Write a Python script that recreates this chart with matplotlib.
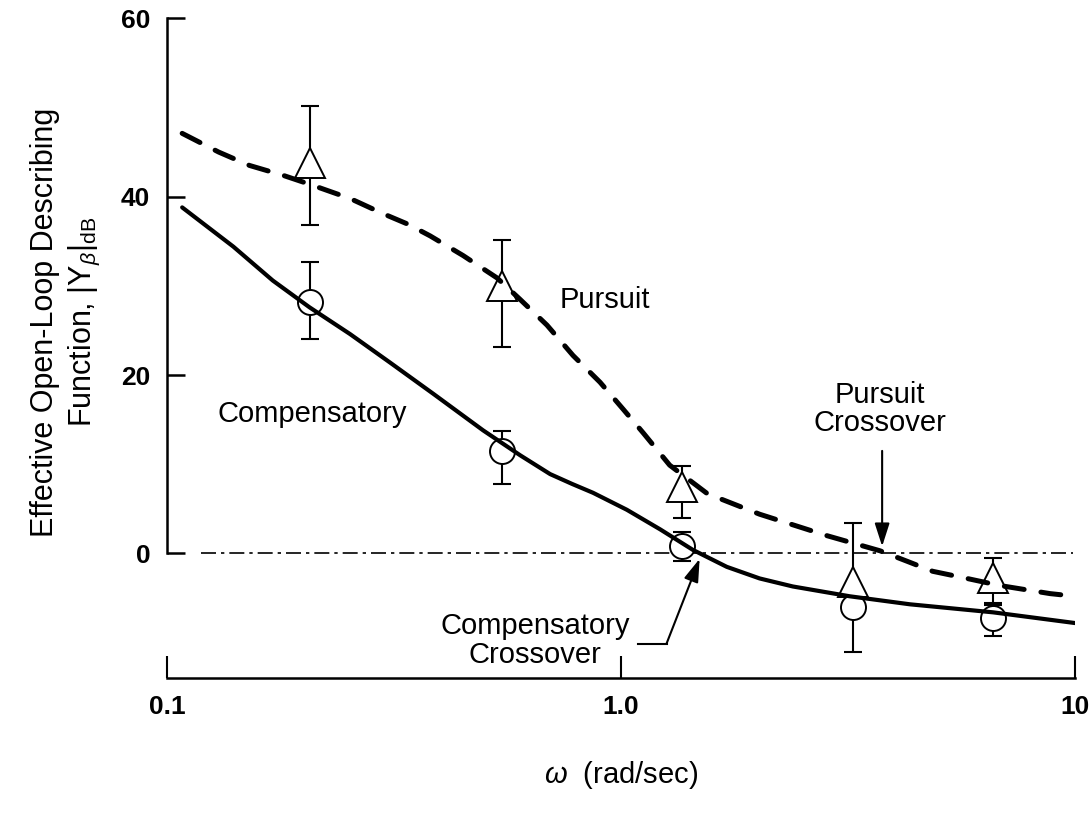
import matplotlib
matplotlib.use("Agg")
import matplotlib.pyplot as plt
import numpy as np

plt.rcParams['font.family'] = ['Liberation Sans', 'DejaVu Sans']
plt.rcParams['mathtext.fontset'] = 'custom'
plt.rcParams['mathtext.rm'] = 'Liberation Sans'
plt.rcParams['mathtext.it'] = 'Liberation Sans:italic'
plt.rcParams['mathtext.bf'] = 'Liberation Sans:bold'

# ---- data ----
omega_pts = [0.207, 0.547, 1.36, 3.24, 6.6]

pursuit_db = [43.8, 30.0, 7.5, -3.2, -2.7]
pursuit_hi = [50.2, 35.2, 9.8, 3.4, -0.5]
pursuit_lo = [36.8, 23.1, 4.0, -5.1, -5.5]

comp_db = [28.2, 11.5, 0.8, -6.0, -7.2]
comp_hi = [32.7, 13.7, 2.4, -4.3, -5.8]
comp_lo = [24.1, 7.8, -0.9, -11.0, -9.2]

pursuit_curve_w = [0.108, 0.13, 0.152, 0.18, 0.206, 0.253, 0.299, 0.34, 0.38, 0.449,
                   0.533, 0.599, 0.687, 0.784, 0.899, 1.01, 1.12, 1.28, 1.55, 2.02,
                   2.84, 3.72, 4.33, 4.86, 5.78, 6.84, 8.81, 10.0]
pursuit_curve_db = [47.1, 45.0, 43.5, 42.4, 41.4, 39.8, 38.1, 36.9, 35.6, 33.4,
                    30.9, 28.5, 25.6, 22.2, 19.2, 16.2, 13.5, 9.9, 6.7, 4.4,
                    2.0, 0.3, -1.0, -2.0, -2.8, -3.6, -4.5, -4.8]

comp_curve_w = [0.108, 0.14, 0.171, 0.206, 0.253, 0.31, 0.386, 0.497, 0.6, 0.698,
                0.78, 0.868, 1.03, 1.22, 1.44, 1.71, 2.02, 2.39, 3.19, 4.33, 6.6, 10.0]
comp_curve_db = [38.8, 34.4, 30.6, 27.6, 24.6, 21.4, 17.9, 13.8, 11.0, 8.9,
                 7.8, 6.8, 4.9, 2.7, 0.4, -1.5, -2.8, -3.7, -4.8, -5.7, -6.6, -7.8]

zero_w = [0.119, 9.9]
zero_db = [0.0, 0.0]

x_ticks = [0.1, 1.0, 10]
x_ticklabels = ['0.1', '1.0', '10']
y_ticks = [0, 20, 40, 60]
y_ticklabels = ['0', '20', '40', '60']

# ---- figure ----
W, H = 1092, 819
fig = plt.figure(figsize=(W / 100, H / 100), dpi=100)
ax = fig.add_axes([167 / W, 1 - 660.5 / H, 908 / W, (660.5 - 18.3) / H])
ax.set_xscale('log')
ax.set_xlim(0.1, 10)
ax.set_ylim(-12, 60)

# zero reference line
ax.plot(zero_w, zero_db, color='black', lw=1.2,
        linestyle=(0, (9, 3, 2, 3)), zorder=2)

# error bars
pe = [np.array(pursuit_db) - np.array(pursuit_lo), np.array(pursuit_hi) - np.array(pursuit_db)]
ce = [np.array(comp_db) - np.array(comp_lo), np.array(comp_hi) - np.array(comp_db)]
ax.errorbar(omega_pts, comp_db, yerr=ce, fmt='none', ecolor='black',
            elinewidth=1.5, capsize=6.5, capthick=1.5, zorder=3, clip_on=False)
ax.errorbar(omega_pts, pursuit_db, yerr=pe, fmt='none', ecolor='black',
            elinewidth=1.5, capsize=6.5, capthick=1.5, zorder=3, clip_on=False)

# markers
ax.plot(omega_pts, comp_db, linestyle='none', marker='o', ms=18,
        mfc='white', mec='black', mew=1.4, zorder=4, clip_on=False)
ax.plot(omega_pts, pursuit_db, linestyle='none', marker='^', ms=21,
        mfc='white', mec='black', mew=1.4, zorder=5, clip_on=False)

# curves
ax.plot(comp_curve_w, comp_curve_db, color='black', lw=3.0,
        solid_capstyle='round', solid_joinstyle='round', zorder=6)
ax.plot(pursuit_curve_w, pursuit_curve_db, color='black', lw=3.6,
        linestyle=(0, (4, 3.4)), dash_capstyle='round', zorder=6)

# spines
for s in ['top', 'right']:
    ax.spines[s].set_visible(False)
ax.spines['left'].set_bounds(0, 60)
ax.spines['left'].set_linewidth(1.8)
ax.spines['bottom'].set_position(('outward', 12.5))
ax.spines['bottom'].set_bounds(0.1, 10)
ax.spines['bottom'].set_linewidth(1.8)

ax.set_yticks(y_ticks)
ax.set_yticklabels(y_ticklabels, fontsize=19, fontweight='bold')
ax.set_xticks(x_ticks)
ax.set_xticklabels(x_ticklabels, fontsize=19, fontweight='bold')
ax.xaxis.set_minor_locator(matplotlib.ticker.NullLocator())
ax.tick_params(axis='y', direction='in', length=13, width=1.8, pad=12)
ax.tick_params(axis='x', direction='in', length=16, width=1.5, pad=12)

ax.set_xlabel(r'$\omega$  (rad/sec)', fontsize=21, labelpad=29)

fig.text(66 / W, 1 - 322 / H,
         'Effective Open-Loop Describing\n' + r'Function, $|\mathrm{Y}_{\beta}|_{\mathrm{dB}}$',
         rotation=90, ha='center', va='center', fontsize=22,
         multialignment='center', linespacing=1.25)

# annotations
tfs = 21
ax.text(0.922, 28.4, 'Pursuit', fontsize=tfs, ha='center', va='center')
ax.text(0.209, 15.6, 'Compensatory', fontsize=tfs, ha='center', va='center')
ax.text(3.72, 16.2, 'Pursuit\nCrossover', fontsize=tfs, ha='center', va='center',
        linespacing=1.0)
ax.text(0.647, -9.8, 'Compensatory\nCrossover', fontsize=tfs, ha='center', va='center',
        linespacing=1.05, clip_on=False)

ax.annotate('', xy=(3.76, 0.8), xytext=(3.76, 11.5),
            arrowprops=dict(arrowstyle='-|>,head_length=1.4,head_width=0.45',
                            color='black', lw=1.5, shrinkA=0, shrinkB=0))
ax.plot([1.09, 1.26], [-10.1, -10.1], color='black', lw=1.5, clip_on=False)
ax.annotate('', xy=(1.49, -0.6), xytext=(1.26, -10.1),
            arrowprops=dict(arrowstyle='-|>,head_length=1.4,head_width=0.45',
                            color='black', lw=1.5, shrinkA=0, shrinkB=0),
            annotation_clip=False)

fig.savefig('out.png', dpi=100)
